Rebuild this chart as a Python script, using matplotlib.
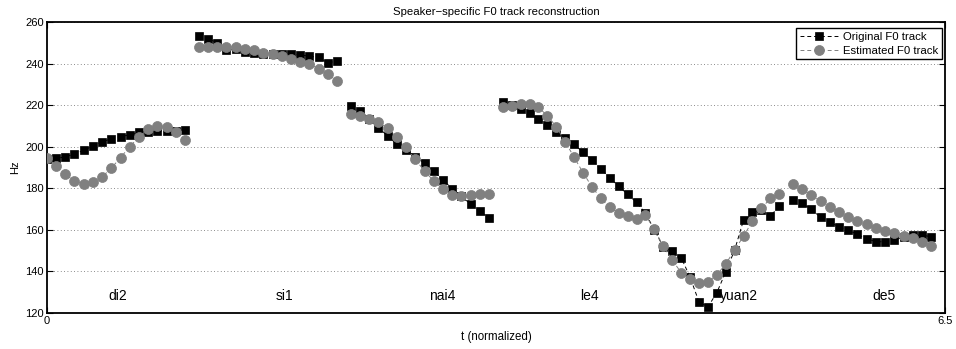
import numpy as np
import matplotlib
matplotlib.use("Agg")
import matplotlib.pyplot as plt

plt.rcParams['font.family'] = ['Liberation Sans', 'DejaVu Sans']

# Syllable spans on the normalized time axis and their labels
syllables = ["di2", "si1", "nai4", "le4", "yuan2", "de5"]
label_t = [0.51, 1.72, 2.86, 3.93, 5.01, 6.06]
label_hz = 128.2

# Voiced segments: (start, end) in normalized time
seg_spans = [(0.0, 1.0), (1.1, 2.1), (2.2, 3.2), (3.3, 5.3), (5.4, 6.4)]

# Original F0 (Hz) per voiced segment
orig_di2 = [194.0, 194.5, 195.0, 196.6, 198.2, 200.4, 202.4, 203.8,
            204.9, 205.7, 206.9, 207.2, 207.5, 207.8, 207.8, 208.0]
orig_si1 = [253.2, 252.0, 250.0, 246.4, 246.8, 245.6, 245.3, 244.8,
            244.8, 244.8, 244.5, 244.2, 243.5, 243.0, 240.3, 241.3]
orig_nai4 = [219.8, 217.4, 213.5, 209.2, 205.1, 201.2, 198.4, 195.3,
             192.0, 188.2, 184.0, 179.8, 176.2, 172.4, 169.1, 165.6]
orig_le4_yuan2 = [221.6, 220.0, 218.0, 216.0, 213.1, 210.4, 207.2, 204.3,
                  201.1, 197.3, 193.6, 189.2, 185.0, 181.0, 177.1, 173.2,
                  168.0, 160.0, 151.8, 150.0, 146.7, 137.3, 125.4, 122.9,
                  129.8, 139.7, 150.3, 164.7, 168.7, 169.5, 166.6, 171.4]
orig_de5 = [174.5, 172.7, 169.9, 166.0, 163.6, 161.5, 159.9, 157.8,
            155.8, 154.3, 154.3, 155.1, 156.4, 157.4, 157.5, 156.7]

# Estimated F0 (Hz) per voiced segment
est_di2 = [194.8, 190.8, 186.7, 183.6, 182.3, 183.1, 185.5, 189.7,
           194.8, 200.0, 204.8, 208.5, 210.1, 209.6, 207.0, 203.3]
est_si1 = [248.0, 248.0, 248.0, 248.0, 247.8, 247.2, 246.3, 245.3,
           244.5, 243.4, 242.3, 240.8, 239.7, 237.6, 234.9, 231.7]
est_nai4 = [215.7, 214.7, 213.3, 211.8, 208.8, 204.8, 199.7, 193.9,
            188.3, 183.5, 179.6, 177.0, 176.2, 176.7, 177.2, 177.5]
est_le4_yuan2 = [219.2, 219.7, 220.5, 220.5, 218.9, 214.9, 209.6, 202.4,
                 194.9, 187.5, 180.7, 175.1, 170.8, 168.2, 166.6, 165.2,
                 167.1, 160.2, 152.2, 145.5, 139.5, 136.2, 134.3, 135.1,
                 138.3, 143.6, 150.3, 157.0, 164.2, 170.3, 175.1, 177.5]
est_de5 = [182.0, 179.5, 176.7, 173.8, 171.1, 168.7, 166.3, 164.4,
           162.6, 160.9, 159.6, 158.6, 157.2, 155.9, 154.1, 152.2]

orig_segments = [orig_di2, orig_si1, orig_nai4, orig_le4_yuan2, orig_de5]
est_segments = [est_di2, est_si1, est_nai4, est_le4_yuan2, est_de5]

gray = "#808080"

fig = plt.figure(figsize=(9.56, 3.49), dpi=100)
ax = fig.add_axes([0.049, 0.103, 0.9395, 0.834])

h_orig = h_est = None
for (t0, t1), yo, ye in zip(seg_spans, orig_segments, est_segments):
    t = np.linspace(t0, t1, len(yo))
    h_orig, = ax.plot(t, yo, linestyle="--", dashes=(4, 3), color="black",
                      linewidth=0.7, marker="s", markersize=6.3,
                      markerfacecolor="black", markeredgecolor="black",
                      markeredgewidth=0.5, zorder=3)
    h_est, = ax.plot(t, ye, linestyle="--", dashes=(4, 3), color=gray,
                     linewidth=0.7, marker="o", markersize=7.2,
                     markerfacecolor=gray, markeredgecolor=gray,
                     markeredgewidth=0.5, zorder=4)

for name, x in zip(syllables, label_t):
    ax.text(x, label_hz, name, ha="center", va="center", fontsize=10)

ax.set_xlim(0, 6.5)
ax.set_ylim(120, 260)
ax.set_xticks([0, 6.5])
ax.set_xticklabels(["0", "6.5"])
ax.set_yticks(np.arange(120, 261, 20))
ax.tick_params(direction="in", length=4, width=0.8, labelsize=8,
               top=True, right=True, pad=2)
ax.yaxis.grid(True, linestyle=(0, (1, 3)), color="#666666", linewidth=0.6)
ax.xaxis.grid(False)
for sp in ax.spines.values():
    sp.set_linewidth(1.3)
    sp.set_color("black")

ax.set_title("Speaker\u2212specific F0 track reconstruction", fontsize=8.2, pad=5)
ax.set_xlabel("t (normalized)", fontsize=8.3, labelpad=4)
ax.set_ylabel("Hz", fontsize=8, labelpad=4)

leg = ax.legend([h_orig, h_est], ["Original F0 track", "Estimated F0 track"],
                loc="upper right", bbox_to_anchor=(0.997, 0.979),
                fontsize=8.2, frameon=True, fancybox=False, framealpha=1,
                edgecolor="black", borderpad=0.35, labelspacing=0.3,
                handlelength=3.4, handletextpad=0.4, borderaxespad=0)
leg.get_frame().set_linewidth(1.0)

fig.savefig("out.png", dpi=100)
